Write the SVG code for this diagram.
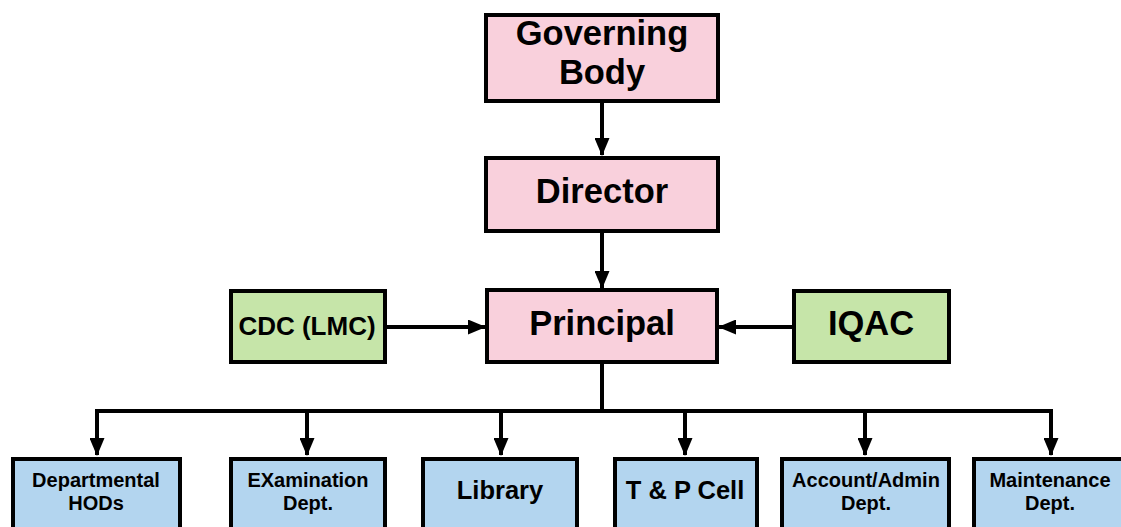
<svg xmlns="http://www.w3.org/2000/svg" width="1121" height="527" viewBox="0 0 1121 527">
<style>
.box{stroke:#000;stroke-width:4}
.pink{fill:#f9d0dc}
.green{fill:#c6e5a9}
.blue{fill:#b3d5ef}
text{font-family:"Liberation Sans",Arial,sans-serif;font-weight:bold;fill:#000;text-anchor:middle}
.big{font-size:34.5px}
.cdc{font-size:26px}
.mid{font-size:25.5px}
.sm{font-size:20px}
.ln{stroke:#000;stroke-width:4;fill:none}
</style>
<defs>
<marker id="ah" markerUnits="userSpaceOnUse" markerWidth="18" markerHeight="15" refX="17" refY="7.5" orient="auto">
<path d="M0,0 L18,7.5 L0,15 z" fill="#000"/>
</marker>
</defs>
<rect width="1121" height="527" fill="#fff"/>
<g id="connectors">
<line class="ln" x1="602" y1="101" x2="602" y2="155" marker-end="url(#ah)"/>
<line class="ln" x1="602" y1="231" x2="602" y2="288" marker-end="url(#ah)"/>
<line class="ln" x1="386" y1="327" x2="485" y2="327" marker-end="url(#ah)"/>
<line class="ln" x1="792" y1="327" x2="719" y2="327" marker-end="url(#ah)"/>
<polyline class="ln" points="602,362 602,411"/>
<polyline class="ln" points="95,411 1051,411"/>
<line class="ln" x1="97" y1="409" x2="97" y2="455" marker-end="url(#ah)"/>
<line class="ln" x1="307" y1="411" x2="307" y2="455" marker-end="url(#ah)"/>
<line class="ln" x1="501" y1="411" x2="501" y2="455" marker-end="url(#ah)"/>
<line class="ln" x1="685" y1="411" x2="685" y2="455" marker-end="url(#ah)"/>
<line class="ln" x1="865" y1="411" x2="865" y2="455" marker-end="url(#ah)"/>
<line class="ln" x1="1051" y1="409" x2="1051" y2="455" marker-end="url(#ah)"/>
</g>
<g id="governing">
<rect class="box pink" x="486" y="15" width="232" height="86"/>
<text class="big" x="602" y="45">Governing</text>
<text class="big" x="602" y="84">Body</text>
</g>
<g id="director">
<rect class="box pink" x="486" y="158" width="232" height="73"/>
<text class="big" x="602" y="203">Director</text>
</g>
<g id="principal">
<rect class="box pink" x="487" y="290" width="230" height="72"/>
<text class="big" x="602" y="335">Principal</text>
</g>
<g id="cdc">
<rect class="box green" x="231" y="291" width="154" height="71"/>
<text class="cdc" x="307" y="335">CDC (LMC)</text>
</g>
<g id="iqac">
<rect class="box green" x="794" y="291" width="155" height="71"/>
<text class="big" x="871" y="335">IQAC</text>
</g>
<g id="hods">
<rect class="box blue" x="13" y="459" width="167" height="80"/>
<text class="sm" x="96" y="487">Departmental</text>
<text class="sm" x="96" y="510">HODs</text>
</g>
<g id="exam">
<rect class="box blue" x="231" y="459" width="154" height="80"/>
<text class="sm" x="308" y="487">EXamination</text>
<text class="sm" x="308" y="510">Dept.</text>
</g>
<g id="library">
<rect class="box blue" x="423" y="459" width="154" height="80"/>
<text class="mid" x="500" y="499">Library</text>
</g>
<g id="tp">
<rect class="box blue" x="615" y="459" width="142" height="80"/>
<text class="mid" x="685" y="499">T &amp; P Cell</text>
</g>
<g id="account">
<rect class="box blue" x="782" y="459" width="167" height="80"/>
<text class="sm" x="866" y="487">Account/Admin</text>
<text class="sm" x="866" y="510">Dept.</text>
</g>
<g id="maintenance">
<rect class="box blue" x="974" y="459" width="150" height="80"/>
<text class="sm" x="1050" y="487">Maintenance</text>
<text class="sm" x="1050" y="510">Dept.</text>
</g>
</svg>
